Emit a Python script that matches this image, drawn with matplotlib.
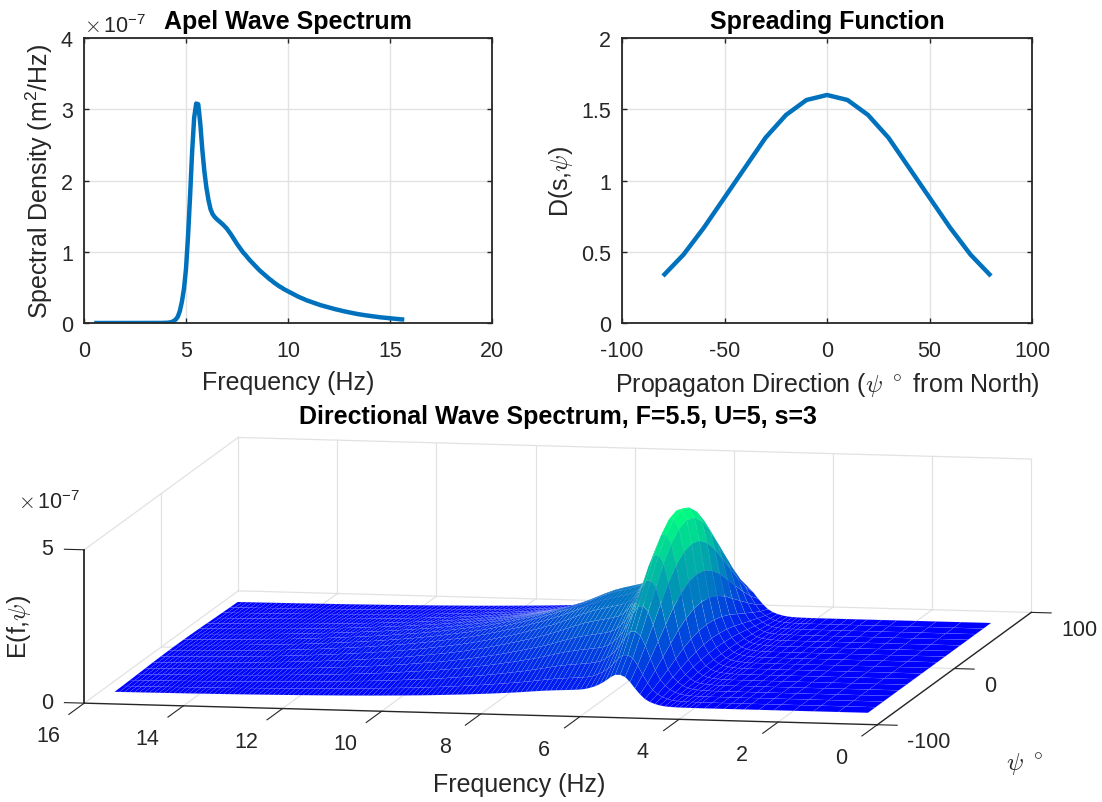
import matplotlib
matplotlib.use('Agg')
import matplotlib.pyplot as plt
import numpy as np

plt.rcParams['font.family'] = ['Liberation Sans', 'DejaVu Sans']
plt.rcParams['mathtext.fontset'] = 'cm'

W, H = 1102, 803
DARK = '#262626'
GRID = '#e2e2e2'
LINE = '#0072BD'
TICK_FS = 15.5
LABEL_FS = 18
TITLE_FS = 18

# spectrum, values in units of 1e-7
freq = [0.5, 1.1, 1.6, 2.0, 2.4, 2.7, 3.0, 3.2, 3.4, 3.6, 3.8,
        4.0, 4.1, 4.2, 4.3, 4.4, 4.5, 4.6, 4.7, 4.8, 4.9,
        5.0, 5.1, 5.2, 5.3, 5.4, 5.5, 5.6, 5.7, 5.8, 5.9,
        6.0, 6.1, 6.2, 6.3, 6.4, 6.5, 6.6, 6.7, 6.8, 6.9,
        7.0, 7.1, 7.2, 7.3, 7.4, 7.5, 7.6, 7.7, 7.8, 7.9,
        8.0, 8.1, 8.2, 8.3, 8.4, 8.5, 8.6, 8.7, 8.8, 8.9,
        9.0, 9.1, 9.2, 9.3, 9.4, 9.5, 9.6, 9.7, 9.8, 9.9,
        10.0, 10.1, 10.2, 10.3, 10.4, 10.5, 10.6, 10.7, 10.8, 10.9,
        11.0, 11.1, 11.2, 11.3, 11.4, 11.5, 11.6, 11.7, 11.8, 11.9,
        12.0, 12.1, 12.2, 12.3, 12.4, 12.5, 12.6, 12.7, 12.8, 12.9,
        13.0, 13.1, 13.2, 13.3, 13.4, 13.5, 13.6, 13.7, 13.8, 13.9,
        14.0, 14.1, 14.2, 14.3, 14.4, 14.5, 14.6, 14.7, 14.8, 14.9,
        15.0, 15.1, 15.2, 15.3, 15.4, 15.5, 15.6, 15.7]
spectrum = [0, 0, 0, 0, 0, 0, 0, 0, 0, 0.001, 0.001,
            0.002, 0.004, 0.008, 0.015, 0.028, 0.05, 0.09, 0.17, 0.3, 0.48,
            0.76, 1.22, 1.78, 2.4, 2.88, 3.08, 3.07, 2.8, 2.43, 2.13,
            1.9, 1.73, 1.6, 1.53, 1.49, 1.46, 1.435, 1.41, 1.385, 1.355,
            1.325, 1.285, 1.245, 1.2, 1.155, 1.11, 1.07, 1.03, 0.99, 0.96,
            0.925, 0.89, 0.86, 0.83, 0.8, 0.77, 0.74, 0.715, 0.69, 0.665,
            0.64, 0.615, 0.595, 0.57, 0.55, 0.53, 0.51, 0.495, 0.475, 0.46,
            0.445, 0.43, 0.415, 0.4, 0.385, 0.37, 0.358, 0.345, 0.333, 0.32,
            0.31, 0.3, 0.29, 0.28, 0.27, 0.26, 0.25, 0.242, 0.233, 0.225,
            0.217, 0.21, 0.202, 0.195, 0.188, 0.181, 0.174, 0.167, 0.161, 0.155,
            0.149, 0.143, 0.137, 0.132, 0.126, 0.122, 0.117, 0.112, 0.108, 0.104,
            0.1, 0.096, 0.092, 0.088, 0.085, 0.081, 0.078, 0.075, 0.072, 0.069,
            0.066, 0.063, 0.06, 0.058, 0.055, 0.053, 0.05, 0.048]

# spreading function
psi = [-80, -70, -60, -50, -40, -30, -20, -10, 0, 10, 20, 30, 40, 50, 60, 70, 80]
spread = [0.33, 0.48, 0.67, 0.88, 1.09, 1.30, 1.46, 1.565, 1.6,
          1.565, 1.46, 1.30, 1.09, 0.88, 0.67, 0.48, 0.33]

f_ticks = [0, 2, 4, 6, 8, 10, 12, 14, 16]
psi_ticks = [-100, 0, 100]
z_ticks = [0, 5]


def fig_xy(x, y):
    return x / W, 1 - y / H


def add_panel(left, top, right, bottom):
    ax = fig.add_axes([left / W, 1 - bottom / H, (right - left) / W, (bottom - top) / H])
    ax.grid(True, color=GRID, linewidth=1.0)
    ax.set_axisbelow(True)
    ax.tick_params(direction='in', top=True, right=True, length=3.5, width=1.0,
                   labelsize=TICK_FS, color=DARK, labelcolor=DARK)
    ax.tick_params(axis='x', pad=12)
    ax.tick_params(axis='y', pad=8)
    for s in ax.spines.values():
        s.set_linewidth(1.3)
        s.set_color(DARK)
    return ax


fig = plt.figure(figsize=(W / 100, H / 100), dpi=100)

# 3d axes first so the panels sit on top of its (empty) square
P = 1122
cx, cy = 557.75, 612.4
ax3 = fig.add_axes([(cx - 0.5135 * P) / W, 1 - (cy + 0.4865 * P) / H, P / W, P / H],
                   projection='3d', proj_type='ortho', computed_zorder=False)
ax3.set_axis_off()
ax3.view_init(elev=8.1, azim=-79.07)
ax3.set_box_aspect((807.7, 812, 154.9))
ax3.set_xlim(16, 0)
ax3.set_ylim(-100, 100)
ax3.set_zlim(0, 5)
# the box and ticks are drawn by hand below, drop the built in ones
ax3.set_xticks([])
ax3.set_yticks([])
ax3.set_zticks([])

for f in f_ticks:
    ax3.plot([f, f], [-100, 100], [0, 0], color=GRID, lw=0.9, zorder=1)
    ax3.plot([f, f], [100, 100], [0, 5], color=GRID, lw=0.9, zorder=1)
ax3.plot([16, 0], [0, 0], [0, 0], color=GRID, lw=0.9, zorder=1)
ax3.plot([16, 0], [100, 100], [0, 0], color=GRID, lw=0.9, zorder=1)
ax3.plot([16, 0], [100, 100], [5, 5], color=GRID, lw=0.9, zorder=1)
ax3.plot([16, 16], [-100, 100], [5, 5], color=GRID, lw=0.9, zorder=1)
ax3.plot([16, 16], [0, 0], [0, 5], color=GRID, lw=0.9, zorder=1)

X, Y = np.meshgrid(freq, psi)
Z = np.outer(spread, spectrum)
ax3.plot_surface(X, Y, Z, cmap='winter', rstride=1, cstride=1, shade=False,
                 edgecolor=(1, 1, 1, 0.16), linewidth=0.3, antialiased=True, zorder=2)

# axis lines and ticks
ax3.plot([16, 0], [-100, -100], [0, 0], color=DARK, lw=1.0, zorder=3)
ax3.plot([0, 0], [-100, 100], [0, 0], color=DARK, lw=1.0, zorder=3)
ax3.plot([16, 16], [-100, -100], [0, 5], color=DARK, lw=1.3, zorder=3)
for f in f_ticks:
    ax3.plot([f, f], [-100, -120], [0, 0], color=DARK, lw=0.8, zorder=3)
    ax3.text(f, -147, -0.2, str(f), fontsize=TICK_FS, color=DARK, ha='center', va='center')
for p in psi_ticks:
    ax3.plot([0, -0.4], [p, p], [0, 0], color=DARK, lw=0.8, zorder=3)
    ax3.text(-0.6, p, -0.53, str(p), fontsize=TICK_FS, color=DARK, ha='left', va='center')
for z in z_ticks:
    ax3.plot([16, 16.4], [-100, -100], [z, z], color=DARK, lw=0.8, zorder=3)
    ax3.text(16.63, -100, z, str(z), fontsize=TICK_FS, color=DARK, ha='right', va='center')

# top panels
ax1 = add_panel(84, 39, 492, 324)
ax1.plot(freq, spectrum, color=LINE, linewidth=3.2, solid_capstyle='butt', solid_joinstyle='round')
ax1.set_xlim(0, 20)
ax1.set_ylim(0, 4)
ax1.set_xticks([0, 5, 10, 15, 20])
ax1.set_xticklabels(['0', '5', '10', '15', '20'])
ax1.set_yticks([0, 1, 2, 3, 4])
ax1.set_yticklabels(['0', '1', '2', '3', '4'])
ax1.set_xlabel('Frequency (Hz)', fontsize=LABEL_FS, color=DARK, labelpad=7)
ax1.set_ylabel(r'Spectral Density (m$\mathregular{^2}$/Hz)', fontsize=LABEL_FS, color=DARK, labelpad=4)
ax1.set_title('Apel Wave Spectrum', fontsize=TITLE_FS, fontweight='bold', pad=7)

ax2 = add_panel(622, 39, 1032, 324)
ax2.plot(psi, spread, color=LINE, linewidth=3.2, solid_capstyle='butt', solid_joinstyle='round')
ax2.set_xlim(-100, 100)
ax2.set_ylim(0, 2)
ax2.set_xticks([-100, -50, 0, 50, 100])
ax2.set_xticklabels(['-100', '-50', '0', '50', '100'])
ax2.set_yticks([0, 0.5, 1, 1.5, 2])
ax2.set_yticklabels(['0', '0.5', '1', '1.5', '2'])
ax2.set_xlabel(r'Propagaton Direction ($\psi$ $^\circ$ from North)', fontsize=LABEL_FS, color=DARK, labelpad=7)
ax2.set_ylabel(r'D(s,$\psi$)', fontsize=LABEL_FS, color=DARK, labelpad=4)
ax2.set_title('Spreading Function', fontsize=TITLE_FS, fontweight='bold', pad=7)

fig.text(*fig_xy(84, 27), r'$\times\,\mathregular{10^{-7}}$', fontsize=TICK_FS, color=DARK, va='center')
fig.text(*fig_xy(18, 503), r'$\times\,\mathregular{10^{-7}}$', fontsize=TICK_FS, color=DARK, va='center')
fig.text(*fig_xy(558, 417), 'Directional Wave Spectrum, F=5.5, U=5, s=3', fontsize=TITLE_FS,
         fontweight='bold', ha='center', va='center')
fig.text(*fig_xy(19, 627), r'E(f,$\psi$)', fontsize=LABEL_FS, color=DARK, rotation=90, ha='center', va='center')
fig.text(*fig_xy(519, 785), 'Frequency (Hz)', fontsize=LABEL_FS, color=DARK, ha='center', va='center')
fig.text(*fig_xy(1025, 765), r'$\psi$ $^\circ$', fontsize=LABEL_FS, color=DARK, ha='center', va='center')

fig.savefig('out.png', dpi=100)
